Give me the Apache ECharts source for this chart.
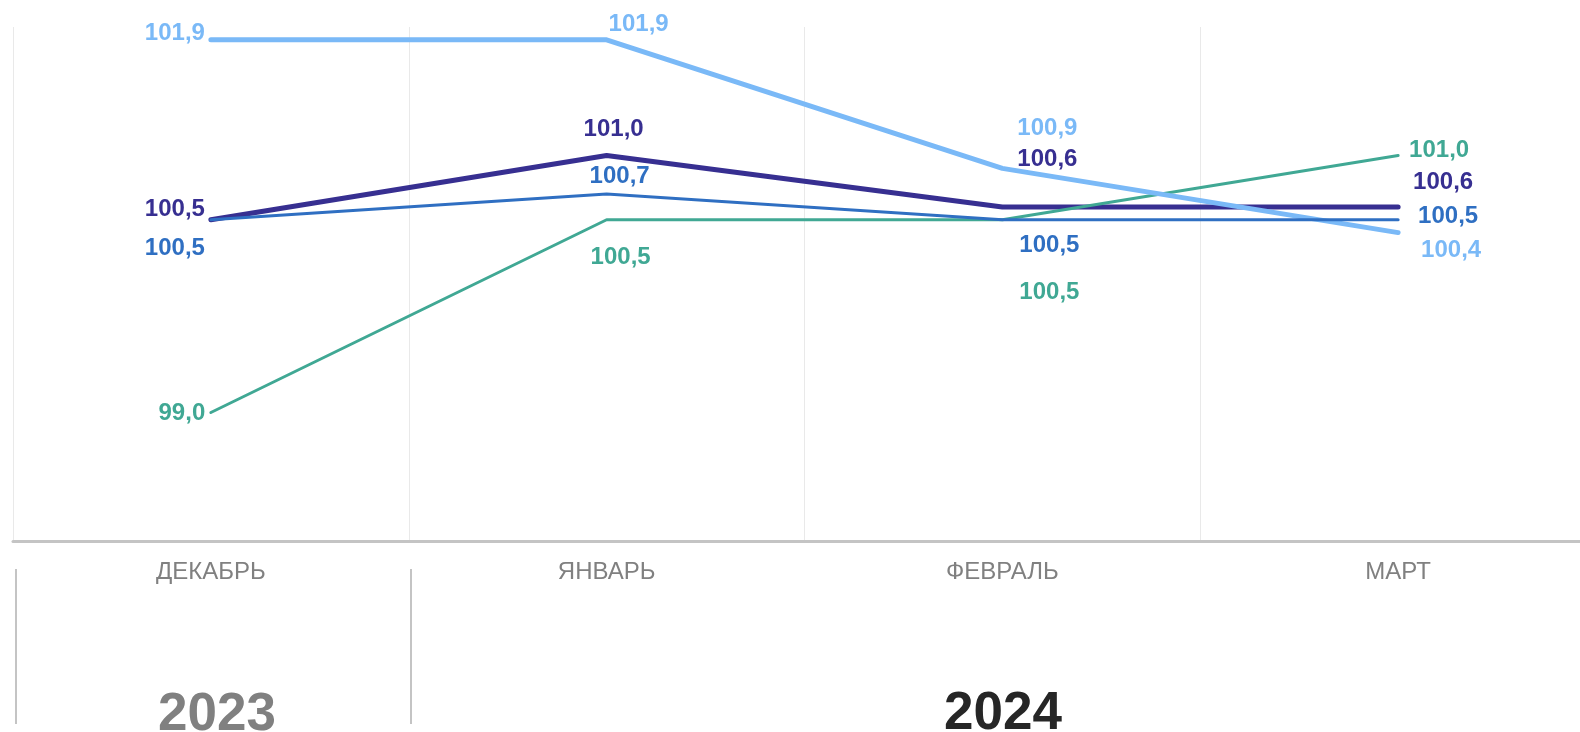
<!DOCTYPE html>
<html>
<head>
<meta charset="utf-8">
<script src="https://cdn.jsdelivr.net/npm/echarts@6/dist/echarts.min.js"></script>
<style>
html,body{margin:0;padding:0;background:#fff;overflow:hidden;width:1580px;height:732px;}
#main{width:1600px;height:732px;}
</style>
</head>
<body>
<div id="main"></div>
<script>
// ---- data ----
var months = ['ДЕКАБРЬ', 'ЯНВАРЬ', 'ФЕВРАЛЬ', 'МАРТ'];
var years = ['2023', '2024'];
var seriesLightBlue = [101.9, 101.9, 100.9, 100.4];
var seriesPurple = [100.5, 101.0, 100.6, 100.6];
var seriesBlue = [100.5, 100.7, 100.5, 100.5];
var seriesTeal = [99.0, 100.5, 100.5, 101.0];

// ---- label placement (offsets from point, px) ----
var offLightBlue = [[-36, -6], [32, -15], [45, -40], [53, 18]];
var offPurple = [[-36, -10], [7, -26], [45, -48], [45, -25]];
var offBlue = [[-36, 29], [13, -18], [47, 26], [50, -3]];
var offTeal = [[-29, 1], [14, 38], [47, 73], [41, -5]];

function fmt(v) { return v.toFixed(1).replace('.', ','); }

function makeSeries(name, values, offsets, color, width, z) {
  return {
    name: name,
    type: 'line',
    z: z,
    data: values.map(function (v, i) {
      return { value: v, label: { offset: offsets[i] } };
    }),
    symbol: 'circle',
    symbolSize: 1,
    showSymbol: true,
    itemStyle: { color: color },
    lineStyle: { color: color, width: width, cap: 'round', join: 'round' },
    label: {
      show: true,
      position: 'inside',
      align: 'center',
      verticalAlign: 'middle',
      color: color,
      fontFamily: 'Liberation Sans, Arial, sans-serif',
      fontWeight: 'bold',
      fontSize: 24,
      formatter: function (p) { return fmt(p.value); }
    },
    emphasis: { disabled: true },
    animation: false
  };
}

var chart = echarts.init(document.getElementById('main'));
chart.setOption({
  animation: false,
  backgroundColor: '#ffffff',
  grid: { left: 13, right: 4, top: 27, bottom: 191, containLabel: false },
  xAxis: {
    type: 'category',
    data: months,
    boundaryGap: true,
    axisLine: { show: true, lineStyle: { color: '#c4c4c4', width: 3 } },
    axisTick: { show: false },
    splitLine: { show: true, lineStyle: { color: '#e9e9e9', width: 1 } },
    axisLabel: {
      color: '#808080',
      fontFamily: 'Liberation Sans, Arial, sans-serif',
      fontSize: 24,
      margin: 19
    }
  },
  yAxis: {
    type: 'value',
    min: 98,
    max: 102,
    interval: 1,
    show: false,
    splitLine: { show: false }
  },
  series: [
    makeSeries('s2', seriesPurple, offPurple, '#372f91', 5, 2),
    makeSeries('s4', seriesTeal, offTeal, '#40a894', 3, 3),
    makeSeries('s1', seriesLightBlue, offLightBlue, '#7ab9f7', 5, 4),
    makeSeries('s3', seriesBlue, offBlue, '#2f6fc2', 3, 5)
  ],
  graphic: [
    { type: 'line', shape: { x1: 16, y1: 569, x2: 16, y2: 724 }, style: { stroke: '#c4c4c4', lineWidth: 2 } },
    { type: 'line', shape: { x1: 411, y1: 569, x2: 411, y2: 724 }, style: { stroke: '#c4c4c4', lineWidth: 2 } },
    { type: 'text', x: 217, y: 715, style: { text: years[0], fill: '#808080', font: 'bold 53px "Liberation Sans", Arial, sans-serif', textAlign: 'center', textVerticalAlign: 'middle' } },
    { type: 'text', x: 1003, y: 714, style: { text: years[1], fill: '#262626', font: 'bold 53px "Liberation Sans", Arial, sans-serif', textAlign: 'center', textVerticalAlign: 'middle' } }
  ]
});
</script>
</body>
</html>
